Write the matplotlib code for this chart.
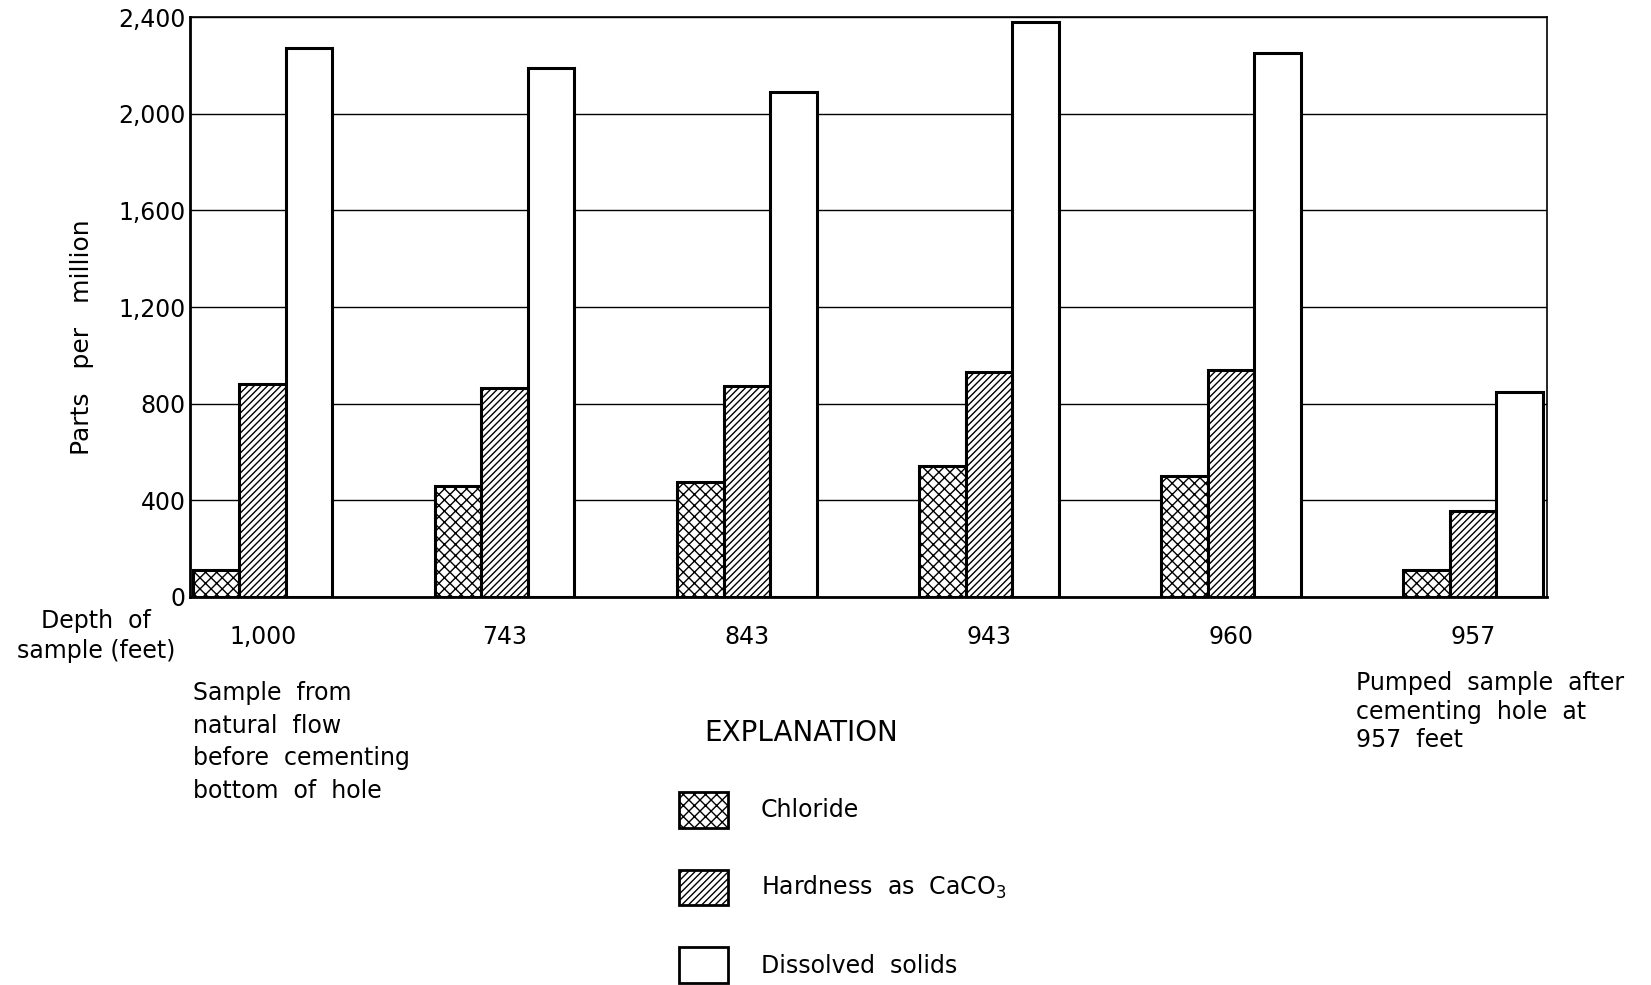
import matplotlib
matplotlib.use("Agg")
import matplotlib.pyplot as plt
import numpy as np
from matplotlib.patches import Patch

# ---- data ----
depths = ["1,000", "743", "843", "943", "960", "957"]
chloride = [110, 460, 475, 542, 500, 112]
hardness = [880, 865, 875, 930, 940, 355]
dissolved = [2270, 2190, 2090, 2380, 2250, 850]
yticks = [0, 400, 800, 1200, 1600, 2000, 2400]
ytick_labels = ["0", "400", "800", "1,200", "1,600", "2,000", "2,400"]
series_names = ["Chloride", "Hardness  as  CaCO$_3$", "Dissolved  solids"]

W, H = 1651, 985
plt.rcParams["font.family"] = ["DejaVu Sans"]
plt.rcParams["hatch.linewidth"] = 1.0
plt.rcParams["hatch.color"] = "black"

fig = plt.figure(figsize=(W / 100, H / 100), dpi=100)
ax = fig.add_axes([190 / W, 1 - 597 / H, (1547 - 190) / W, (597 - 17) / H])

x = np.arange(len(depths))
w = 0.192
bar_kw = dict(width=w, facecolor="white", edgecolor="black", linewidth=2.2, zorder=3)
ax.bar(x - w, chloride, hatch="xxx", **bar_kw)
ax.bar(x, hardness, hatch="/////", **bar_kw)
ax.bar(x + w, dissolved, **bar_kw)

ax.set_xlim(-0.30, len(depths) - 1 + 0.305)
ax.set_ylim(0, 2400)
ax.set_yticks(yticks)
ax.set_yticklabels(ytick_labels, fontsize=17)
ax.set_xticks(x)
ax.set_xticklabels(depths, fontsize=17)
ax.tick_params(axis="y", length=0, pad=3)
ax.tick_params(axis="x", length=0, pad=20)
ax.yaxis.grid(True, color="black", linewidth=1.0, zorder=1)
ax.set_axisbelow(True)
for side in ["left", "bottom"]:
    ax.spines[side].set_linewidth(2.0)
for side in ["top", "right"]:
    ax.spines[side].set_linewidth(1.2)

def fx(px):
    return px / W

def fy(py):
    return 1 - py / H

fig.text(fx(82), fy(337), "Parts   per   million", rotation=90, fontsize=18,
         ha="center", va="center")
fig.text(fx(96), fy(636), "Depth  of\nsample (feet)", fontsize=17,
         ha="center", va="center", linespacing=1.3)
fig.text(fx(193), fy(681), "Sample  from\nnatural  flow\nbefore  cementing\nbottom  of  hole",
         fontsize=17, ha="left", va="top", linespacing=1.45)
fig.text(fx(1356), fy(671), "Pumped  sample  after\ncementing  hole  at\n957  feet",
         fontsize=17, ha="left", va="top", linespacing=1.24)
fig.text(fx(704), fy(733), "EXPLANATION", fontsize=20, ha="left", va="center")

handles = [
    Patch(facecolor="white", edgecolor="black", linewidth=2.0, hatch="xxx"),
    Patch(facecolor="white", edgecolor="black", linewidth=2.0, hatch="/////"),
    Patch(facecolor="white", edgecolor="black", linewidth=2.0),
]
fig.legend(handles, series_names, loc="upper left",
           bbox_to_anchor=(fx(679), fy(792)), frameon=False, fontsize=17,
           handlelength=2.07, handleheight=1.95, handletextpad=1.4,
           labelspacing=1.78, borderpad=0, borderaxespad=0)

fig.savefig("out.png", dpi=100)
